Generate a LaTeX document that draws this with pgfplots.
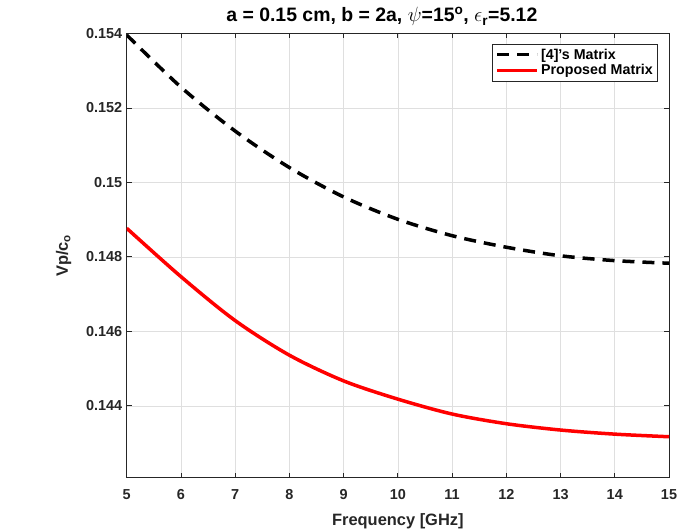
\documentclass[border=0pt]{standalone}
\usepackage{fontspec}
\setmainfont{Liberation Sans}
\usepackage{pgfplots}
\pgfplotsset{compat=1.18}
\definecolor{axgray}{RGB}{38,38,38}
\definecolor{gridgray}{RGB}{223,223,223}
\begin{document}
\begin{tikzpicture}
\begin{axis}[
  name=ax, scale only axis, width=542.3bp, height=444.2bp,
  xmin=5, xmax=15, ymin=0.14207, ymax=0.154,
  xtick={5,6,...,15},
  ytick={0.144,0.146,0.148,0.15,0.152,0.154},
  yticklabels={0.144,0.146,0.148,0.15,0.152,0.154},
  scaled y ticks=false,
  grid=major, major grid style={gridgray, line width=0.6bp},
  axis line style={axgray, line width=0.8bp},
  tick style={axgray, line width=0.8bp}, major tick length=5bp,
  tick align=inside,
  /pgf/number format/assume math mode=true,
  ticklabel style={font=\fontsize{14.5}{16}\selectfont\bfseries, text=axgray},
  xticklabel style={yshift=-8bp},
  yticklabel style={xshift=-1bp},
  xlabel={Frequency [GHz]},
  ylabel={Vp/c$_{\mathbf{o}}$},
  label style={font=\fontsize{16.5}{19}\selectfont\bfseries, text=axgray},
  xlabel style={yshift=-7bp},
  ylabel style={yshift=8bp},
  title={a = 0.15 cm, b = 2a, $\psi$=15\textsuperscript{o}, $\epsilon_{\mathbf{r}}$=5.12},
  title style={font=\fontsize{19.5}{22}\selectfont\bfseries, text=black, yshift=-2bp, xshift=-16bp},
  legend style={at={(1,1)}, xshift=-11bp, yshift=-10.5bp, anchor=north east,
    draw=axgray, line width=0.6bp, font=\fontsize{14.3}{16}\selectfont\bfseries,
    row sep=0bp, inner xsep=3bp, inner ysep=2.5bp},
  legend cell align=left,
  legend image code/.code={\draw[#1] (0bp,0bp) -- (40bp,0bp);},
]
\addplot[black, line width=3.5bp, dash pattern=on 12bp off 8bp, smooth] coordinates {
(5,0.15396) (6,0.15256) (7,0.15138) (8,0.15040) (9,0.14961) (10,0.14901)
(11,0.14857) (12,0.14826) (13,0.14803) (14,0.14790) (15,0.14783)};
\addlegendentry{[4]'s Matrix}
\addplot[red, line width=3.5bp, smooth] coordinates {
(5,0.14877) (6,0.14747) (7,0.14629) (8,0.14536) (9,0.14467) (10,0.14418)
(11,0.14378) (12,0.14352) (13,0.14335) (14,0.14324) (15,0.14317)};
\addlegendentry{Proposed Matrix}
\end{axis}
\path ([shift={(-126.7bp,-53.3bp)}]ax.south west) rectangle ([shift={(30bp,33.5bp)}]ax.north east);
\end{tikzpicture}
\end{document}
